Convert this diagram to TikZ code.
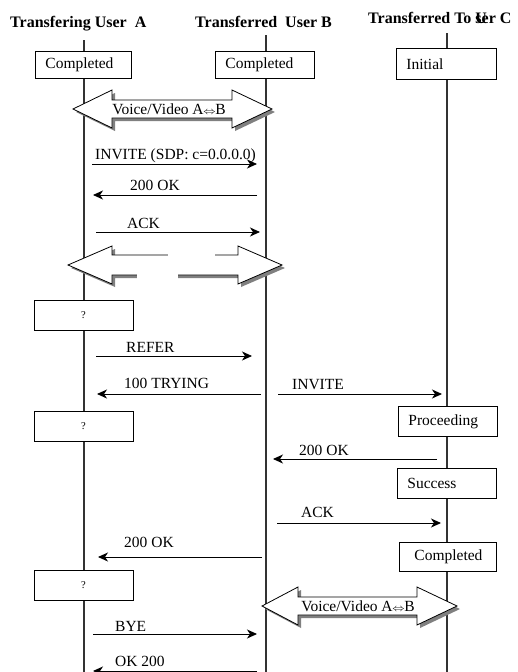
\documentclass[tikz,border=0pt]{standalone}
\usepackage{fontspec}
\setmainfont{Liberation Serif}
\usetikzlibrary{arrows.meta}

% Double-headed media-flow arrow with a grey drop shadow.
% #1 left tip x, #2 left head base x, #3 right head base x, #4 right tip x,
% #5 centre y, #6 head half-height, #7 shaft half-height
\newcommand\mediaflow[7]{%
  \fill[flowshadow, shift={(3,3)}] (#1,#5) -- (#2,#5-#6) -- (#2,#5-#7) -- (#3,#5-#7)
    -- (#3,#5-#6) -- (#4,#5) -- (#3,#5+#6) -- (#3,#5+#7) -- (#2,#5+#7) -- (#2,#5+#6) -- cycle;
  \filldraw[flowbody] (#1,#5) -- (#2,#5-#6) -- (#2,#5-#7) -- (#3,#5-#7)
    -- (#3,#5-#6) -- (#4,#5) -- (#3,#5+#6) -- (#3,#5+#7) -- (#2,#5+#7) -- (#2,#5+#6) -- cycle;}

\newcommand\bothways{\kern-0.3pt\scalebox{0.85}[0.7]{$\Leftrightarrow$}\kern-0.3pt}

\tikzset{
  lifeline/.style={line width=1.2pt, draw=black!80},
  msg/.style={line width=0.9pt, -{Stealth[length=10pt,width=9pt,inset=3pt]}},
  msglabel/.style={anchor=base west, inner sep=0pt, font=\fontsize{15.5}{18}\selectfont},
  title/.style={anchor=base west, inner sep=0pt, font=\fontsize{16}{19}\selectfont\bfseries},
  stbox/.style={draw, fill=white, line width=0.9pt, anchor=north west, inner xsep=10pt,
    inner ysep=0pt, align=left, font=\fontsize{15.5}{18}\selectfont},
  qbox/.style={draw, fill=white, line width=0.9pt, minimum width=99pt, minimum height=30pt,
    inner sep=0pt, font=\fontsize{10.5}{12}\selectfont},
  flowshadow/.style={fill=black!50, draw=none},
  flowbody/.style={fill=white, draw=black, line width=0.8pt, line join=miter},
  flowtext/.style={inner sep=0pt, font=\fontsize{15.5}{18}\selectfont},
}

\begin{document}
\begin{tikzpicture}[x=1pt, y=-1pt]
\useasboundingbox (0,0) rectangle (518,672);

% participants
\node[title] (tA) at (10,27) {Transfering User\ \ A};
\node[title] (tB) at (195,27) {Transferred\ \ User B};
\node[title] (tC) at (368,23) {Transferred To \rlap{U}ser C};

% lifelines
\coordinate (Atop) at (84,40);  \coordinate (Abot) at (84,672);
\coordinate (Btop) at (266,35); \coordinate (Bbot) at (266,672);
\coordinate (Ctop) at (447,33); \coordinate (Cbot) at (447,672);
\draw[lifeline] (Atop) -- (Abot);
\draw[lifeline] (Btop) -- (Bbot);
\draw[lifeline] (Ctop) -- (Cbot);

% state boxes
\node[stbox, text width=76pt, minimum height=27pt] (sA1) at (35,51) {Completed};
\node[stbox, text width=79pt, minimum height=27pt] (sB1) at (215,51) {Completed};
\node[stbox, text width=80pt, minimum height=31pt] (sC1) at (396,48) {Initial};
\node[stbox, text width=79pt, minimum height=30pt] (sC2) at (398,406) {Proceeding};
\node[stbox, text width=79pt, minimum height=30pt] (sC3) at (397,468) {Success};
\node[stbox, text width=77pt, minimum height=29pt] (sC4) at (399,542) {\hspace*{5pt}Completed};

\node[qbox] (qA1) at (83.5,315) {?};
\node[qbox] (qA2) at (83.5,426.5) {?};
\node[qbox] (qA3) at (83.5,585) {?};

% media flows
\mediaflow{73}{112}{232}{272}{109}{19}{9}
\node[flowtext] (vv1) at (169,109) {Voice/Video A\bothways B};

\mediaflow{68}{112}{238}{282}{265}{19}{10}
\fill[white] (168,252) rectangle (215,258);
\fill[white] (137,271) rectangle (178,279);

\mediaflow{262}{298}{417}{457}{606}{19}{9}
\node[flowtext] (vv3) at (358,606) {Voice/Video A\bothways B};

% messages
\coordinate (m1a) at (92,164);  \coordinate (m1b) at (257,164);
\draw[msg] (m1a) -- (m1b);
\node[msglabel] (l1) at (95,159) {INVITE (SDP: c=0.0.0.0)};

\coordinate (m2a) at (257,195); \coordinate (m2b) at (93,195);
\draw[msg] (m2a) -- (m2b);
\node[msglabel] (l2) at (130,190) {200 OK};

\coordinate (m3a) at (96,232);  \coordinate (m3b) at (260,232);
\draw[msg] (m3a) -- (m3b);
\node[msglabel] (l3) at (127,228) {ACK};

\coordinate (m4a) at (96,356);  \coordinate (m4b) at (252,356);
\draw[msg] (m4a) -- (m4b);
\node[msglabel] (l4) at (126,352) {REFER};

\coordinate (m5a) at (261,394); \coordinate (m5b) at (97,394);
\draw[msg] (m5a) -- (m5b);
\node[msglabel] (l5) at (124,388) {100 TRYING};

\coordinate (m6a) at (278,394); \coordinate (m6b) at (442,394);
\draw[msg] (m6a) -- (m6b);
\node[msglabel] (l6) at (292,389) {INVITE};

\coordinate (m7a) at (437,459); \coordinate (m7b) at (273,459);
\draw[msg] (m7a) -- (m7b);
\node[msglabel] (l7) at (299,455) {200 OK};

\coordinate (m8a) at (277,523); \coordinate (m8b) at (441,523);
\draw[msg] (m8a) -- (m8b);
\node[msglabel] (l8) at (301,517) {ACK};

\coordinate (m9a) at (262,557); \coordinate (m9b) at (98,557);
\draw[msg] (m9a) -- (m9b);
\node[msglabel] (l9) at (124,547) {200 OK};

\coordinate (m10a) at (93,634); \coordinate (m10b) at (257,634);
\draw[msg] (m10a) -- (m10b);
\node[msglabel] (l10) at (115,631) {BYE};

\coordinate (m11a) at (257,671); \coordinate (m11b) at (93,671);
\draw[msg] (m11a) -- (m11b);
\node[msglabel] (l11) at (115,666) {OK 200};
\end{tikzpicture}
\end{document}
